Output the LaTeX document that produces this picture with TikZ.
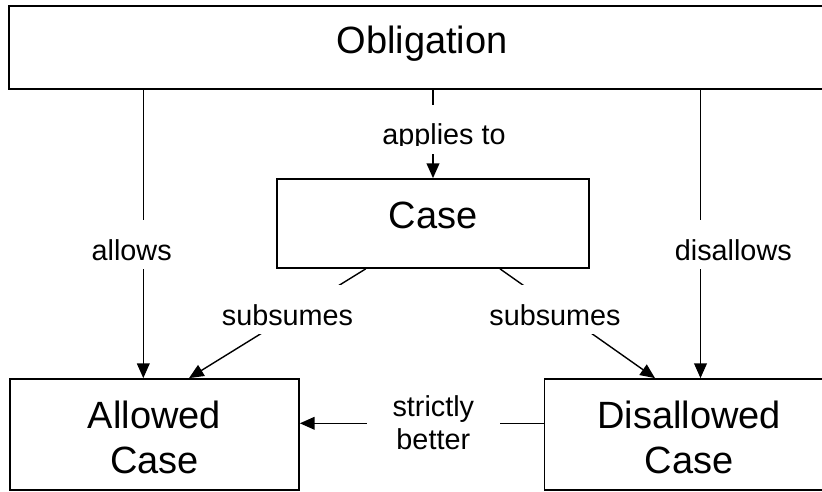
\documentclass[tikz,border=0pt]{standalone}
\usepackage{fontspec}
\setmainfont{Liberation Sans}
\usetikzlibrary{arrows.meta}
\begin{document}
\begin{tikzpicture}[x=0.75pt,y=-0.75pt,
  box/.style={draw=black,line width=1.3pt,fill=white,inner sep=0pt,align=center,
    font=\fontsize{28.5}{34}\selectfont},
  conn/.style={draw=black,line width=1.05pt},
  arr/.style={conn,-{Triangle[length=11pt,width=9.5pt]}},
  lbl/.style={fill=white,inner xsep=1pt,inner ysep=6.75pt,text height=23pt,text depth=0pt,
    font=\fontsize{21.6}{24.5}\selectfont},
  lbltwo/.style={fill=white,inner xsep=19.3pt,inner ysep=2pt,align=center,
    font=\fontsize{21.6}{24.5}\selectfont}]
\useasboundingbox (0,0) rectangle (822,492);
\clip (0,0) rectangle (822,492);

% boxes
\node[box,line width=1.7pt,minimum width=619.5pt,minimum height=62.25pt,text depth=12pt] (obl) at (422,47.5) {Obligation};
\node[box,minimum width=234pt,minimum height=66.75pt,text depth=12pt] (case) at (433,223.5) {Case};
\node[box,minimum width=216.75pt,minimum height=83.25pt] (al) at (154.5,434.5) {\rule{0pt}{25.3pt}Allowed\\Case};
\node[box,minimum width=216.75pt,minimum height=83.25pt] (dis) at (689,434.5) {\rule{0pt}{25.3pt}Disallowed\\Case};

% helper coordinates
\coordinate (xal) at (143.3,0);
\coordinate (xdis) at (700.5,0);
\coordinate (s1) at (365.7,0);
\coordinate (t1) at (189,0);
\coordinate (s2) at (500,0);
\coordinate (t2) at (655,0);
\coordinate (sb) at (0,423.3);

% connectors
\draw[arr] (obl.south -| xal) -- (al.north -| xal);
\draw[arr] (obl.south -| xdis) -- (dis.north -| xdis);
\draw[arr] (obl.south -| case.north) -- (case.north);
\draw[arr] (case.south -| s1) -- (al.north -| t1);
\draw[arr] (case.south -| s2) -- (dis.north -| t2);
\draw[arr] (dis.west |- sb) -- (al.east |- sb);

% labels
\node[lbl,anchor=base] (lal) at (131.7,260) {allows};
\node[lbl,anchor=base] (ldis) at (733.3,260) {disallows};
\node[lbl,anchor=base] (lapp) at (444,145) {applies to};
\fill[white] (380,145.8) rectangle (510,153);
\node[lbl,anchor=base] (ls1) at (287.5,325) {subsumes};
\node[lbl,anchor=base] (ls2) at (555,325) {subsumes};
\node[lbltwo] (lsb) at (433.3,422.7) {strictly\\better};
\end{tikzpicture}
\end{document}
